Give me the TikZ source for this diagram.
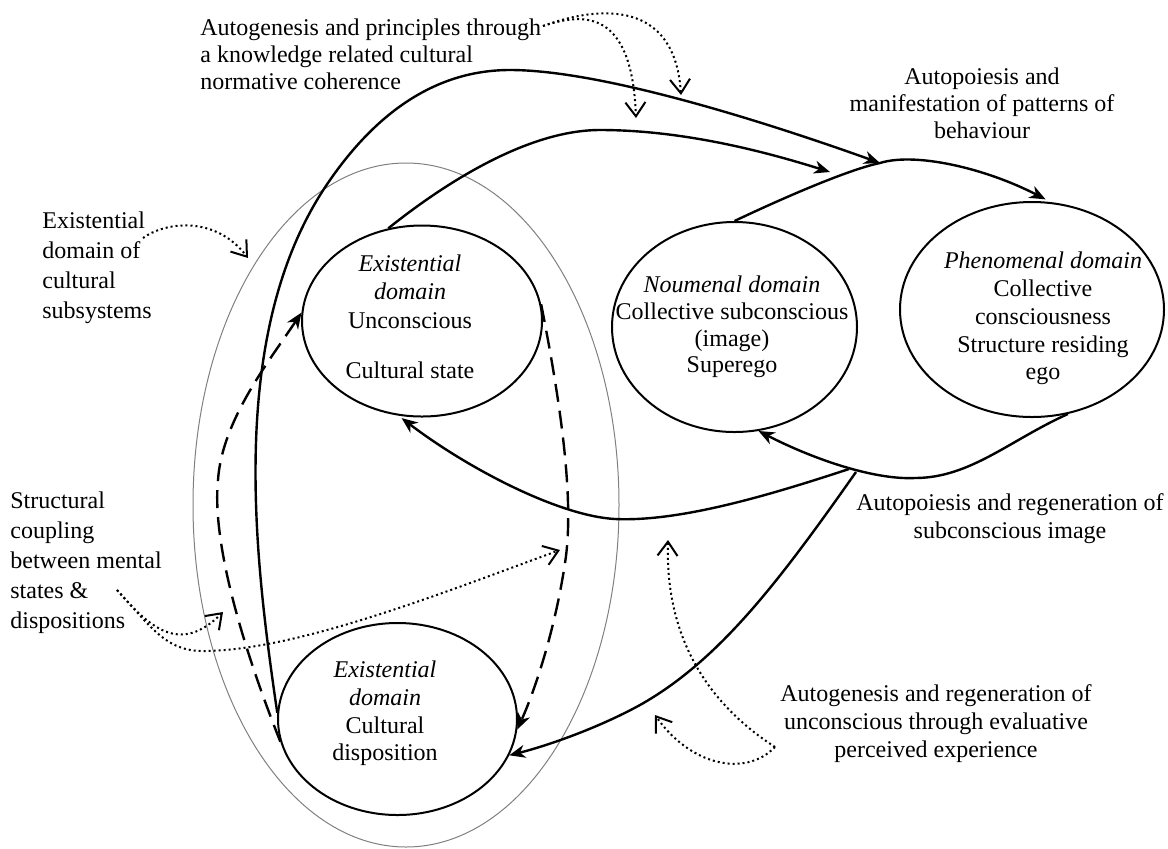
\documentclass[tikz,border=0pt]{standalone}
\usepackage{fontspec}
\setmainfont{Liberation Serif}
\usetikzlibrary{arrows.meta,shapes.geometric}
\begin{document}
\begin{tikzpicture}[x=0.5pt,y=-0.5pt,
  dom/.style={ellipse, draw, line width=1pt, inner sep=0pt},
  txt/.style={font=\fontsize{12}{#1}\selectfont, align=center, inner sep=0pt},
  lbl/.style={font=\fontsize{12}{#1}\selectfont, align=left, inner sep=0pt, anchor=west},
  flow/.style={line width=1.2pt, -{Stealth[length=8pt,width=6.5pt,inset=2.5pt]}},
  solidline/.style={line width=1.2pt},
  couple/.style={line width=1.2pt, dash pattern=on 9pt off 4.5pt, -{Stealth[length=8pt,width=6.5pt,inset=2.5pt]}},
  hint/.style={line width=1pt, dash pattern=on 1pt off 1.5pt, -{Straight Barb[length=7pt,width=10pt,line width=1pt]}},
]
\useasboundingbox (0,0) rectangle (1168,848);

% enclosing domain of the cultural subsystems
\node[ellipse, draw=gray, line width=0.5pt, inner sep=0pt, minimum width=213pt, minimum height=342pt] (sub) at (406,505) {};

% the four domains
\node[dom, minimum width=120pt, minimum height=95.5pt] (exU) at (422,321) {};
\node[dom, minimum width=122.5pt, minimum height=105pt] (noum) at (734.5,327) {};
\node[dom, minimum width=132pt, minimum height=107.5pt] (phen) at (1032,309.5) {};
\node[dom, minimum width=119.5pt, minimum height=96pt] (exD) at (397.5,719) {};

\node[txt=14.25pt] (exUt) at (410,317) {\textit{Existential}\\\textit{domain}\\Unconscious\\[11pt]Cultural state};
\node[txt=13.4pt] (noumt) at (732,327) {\textit{Noumenal domain}\\Collective subconscious\\(image)\\Superego};
\node[txt=13.9pt] (phent) at (1043,318.5) {\textit{Phenomenal domain}\\Collective\\consciousness\\Structure residing\\ego};
\node[txt=13.85pt] (exDt) at (385,713.5) {\textit{Existential}\\\textit{domain}\\Cultural\\disposition};

% labels
\node[lbl=13.5pt] (lblTop) at (200,54) {Autogenesis and principles through\\a knowledge related cultural\\normative coherence};
\node[txt=13.5pt] (lblManif) at (982,103) {Autopoiesis and\\manifestation of patterns of\\behaviour};
\node[lbl=15pt] (lblSub) at (42,268) {Existential\\domain of\\cultural\\subsystems};
\node[lbl=15pt] (lblCoup) at (10,563) {Structural\\coupling\\between mental\\states \&\\dispositions};
\node[txt=14pt] (lblRegS) at (1010,519) {Autopoiesis and regeneration of\\subconscious image};
\node[txt=14pt] (lblRegU) at (936,724) {Autogenesis and regeneration of\\unconscious through evaluative\\perceived experience};

% free ends and junctions of connectors
\coordinate (manif) at (880,163);
\coordinate (bEnd) at (830,172);
\coordinate (jA) at (849,469);
\coordinate (jB) at (856,472);
\coordinate (f1) at (543,26);
\coordinate (f1a) at (636,118);
\coordinate (f1b) at (681,95);
\coordinate (f2) at (143,238);
\coordinate (f2e) at (248,258);
\coordinate (f3) at (117,590);
\coordinate (f3a) at (223,612);
\coordinate (f3b) at (560,550);
\coordinate (f4) at (775,747);
\coordinate (f4a) at (655,715);
\coordinate (f4b) at (668,540);

% autopoiesis: noumenal -> phenomenal
\draw[flow, shorten >=3pt] (noum.north) .. controls (800,190) and (855,168) .. (manif)
  .. controls (915,152) and (985,168) .. (phen.80);
% autogenesis from the disposition round to the top
\draw[flow] (exD.177) .. controls (255,560) and (225,330) .. (330,180)
  .. controls (380,108) and (440,70) .. (510,70)
  .. controls (600,70) and (760,120) .. (manif);
% existential state -> manifestation
\draw[flow] (exU.110) .. controls (430,195) and (520,130) .. (600,130)
  .. controls (680,130) and (760,150) .. (bEnd);

% regeneration: phenomenal -> noumenal, existential state, disposition
\draw[flow] (phen.-71) .. controls (1010,440) and (970,478) .. (915,478)
  .. controls (875,480) and (815,460) .. (noum.-77);
\draw[flow, shorten >=2pt] (jA) .. controls (770,495) and (680,522) .. (615,519)
  .. controls (560,516) and (470,470) .. (exU.-104);
\draw[flow] (jB) .. controls (780,580) and (720,660) .. (640,705)
  .. controls (600,727) and (550,745) .. (exD.-18);

% structural coupling between state and disposition
\draw[couple] (exD.191) .. controls (240,640) and (212,540) .. (218,480)
  .. controls (222,420) and (270,360) .. (exU.176);
\draw[couple] (exU.8) .. controls (560,400) and (575,500) .. (565,563)
  .. controls (555,630) and (535,690) .. (exD.-5);

% dotted pointers from the labels
\draw[hint] (f1) .. controls (585,12) and (632,10) .. (f1a);
\draw[hint] (f1) .. controls (600,5) and (675,0) .. (f1b);
\draw[hint] (f2) .. controls (165,222) and (215,215) .. (f2e);
\draw[hint] (f3) .. controls (150,628) and (180,655) .. (f3a);
\draw[hint] (f3) .. controls (150,625) and (165,652) .. (205,651)
  .. controls (300,650) and (450,590) .. (f3b);
\draw[hint] (f4) .. controls (745,778) and (690,765) .. (f4a);
\draw[hint] (f4) .. controls (710,705) and (665,640) .. (f4b);
\end{tikzpicture}
\end{document}
